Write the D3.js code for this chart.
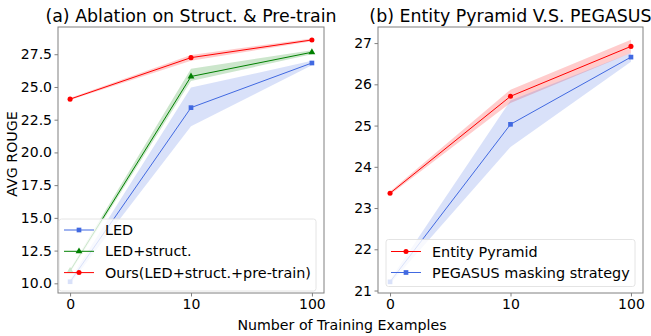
<!DOCTYPE html>
<html>
<head>
<meta charset="utf-8">
<script src="https://cdn.jsdelivr.net/npm/d3@7"></script>
<style>
  body { margin: 0; background: #fff; }
  text { font-family: "DejaVu Sans", sans-serif; fill: #000; }
</style>
</head>
<body>
<script>
/*** data ***/
const xLabels = ["0", "10", "100"];

// (a) ablation
const ledMean = [10.12, 23.42, 26.83];
const ledLow  = [9.95, 22.0, 26.65];
const ledHigh = [10.3, 24.95, 27.0];

const structMean = [10.95, 25.8, 27.65];
const structLow  = [10.8, 25.45, 27.5];
const structHigh = [11.1, 26.4, 27.8];

const oursMean = [24.07, 27.24, 28.59];
const oursLow  = [24.0, 27.0, 28.5];
const oursHigh = [24.15, 27.45, 28.7];

const yTicksA = [10, 12.5, 15, 17.5, 20, 22.5, 25, 27.5];

// (b) entity pyramid vs pegasus
const pyrMean = [23.36, 25.71, 26.92];
const pyrLow  = [23.32, 25.55, 26.76];
const pyrHigh = [23.4, 25.87, 27.08];

const pegMean = [21.21, 25.03, 26.66];
const pegLow  = [21.16, 24.48, 26.55];
const pegHigh = [21.26, 25.61, 26.76];

const yTicksB = [21, 22, 23, 24, 25, 26, 27];

/*** setup ***/
const width = 651, height = 336;
const svg = d3.select("body").append("svg")
  .attr("width", width)
  .attr("height", height);

const spineColor = "#808080";

function drawPanel(opts) {
  const { left, right, top, bottom, yDomain, yTicks, yFmt, title, series, legend } = opts;

  const x = d3.scalePoint().domain(xLabels).range([left, right]).padding(0.1);
  const y = d3.scaleLinear().domain(yDomain).range([bottom, top]);

  const g = svg.append("g");

  // bands + lines
  series.forEach(s => {
    const pts = xLabels.map((k, i) => ({ k, m: s.mean[i], lo: s.low[i], hi: s.high[i] }));
    g.append("path")
      .attr("d", d3.area().x(d => x(d.k)).y0(d => y(d.lo)).y1(d => y(d.hi))(pts))
      .attr("fill", s.color)
      .attr("fill-opacity", 0.2);
  });
  series.forEach(s => {
    const pts = xLabels.map((k, i) => ({ k, m: s.mean[i] }));
    g.append("path")
      .attr("d", d3.line().x(d => x(d.k)).y(d => y(d.m))(pts))
      .attr("fill", "none")
      .attr("stroke", s.color)
      .attr("stroke-width", 1);
    g.selectAll(null)
      .data(pts)
      .join("path")
      .attr("transform", d => `translate(${x(d.k)},${y(d.m)})`)
      .attr("d", d3.symbol().type(s.symbol).size(s.size))
      .attr("fill", s.color);
  });

  // axes
  const xAxis = svg.append("g")
    .attr("transform", `translate(0,${bottom})`)
    .call(d3.axisBottom(x).tickSize(3.5).tickPadding(3));
  const yAxis = svg.append("g")
    .attr("transform", `translate(${left},0)`)
    .call(d3.axisLeft(y).tickValues(yTicks).tickFormat(yFmt).tickSize(3.5).tickPadding(2.5));
  [xAxis, yAxis].forEach(a => {
    a.select(".domain").remove();
    a.selectAll(".tick line").attr("stroke", spineColor);
    a.selectAll(".tick text").attr("font-size", 14).attr("font-family", "DejaVu Sans").attr("fill", "#000");
  });

  svg.append("rect")
    .attr("x", left).attr("y", top)
    .attr("width", right - left).attr("height", bottom - top)
    .attr("fill", "none")
    .attr("stroke", spineColor)
    .attr("stroke-width", 1);

  svg.append("text")
    .attr("x", (left + right) / 2)
    .attr("y", top - 5)
    .attr("text-anchor", "middle")
    .attr("font-size", 17.4)
    .text(title);

  // legend
  const lg = svg.append("g");
  lg.append("rect")
    .attr("x", legend.x).attr("y", legend.y)
    .attr("width", legend.w).attr("height", legend.h)
    .attr("rx", 2.5)
    .attr("fill", "#fff").attr("fill-opacity", 0.8)
    .attr("stroke", "#ddd").attr("stroke-width", 0.8);
  series.forEach((s, i) => {
    const cy = legend.y + legend.first + i * legend.step;
    lg.append("line")
      .attr("x1", legend.x + 5).attr("x2", legend.x + 35)
      .attr("y1", cy).attr("y2", cy)
      .attr("stroke", s.color).attr("stroke-width", 1);
    lg.append("path")
      .attr("transform", `translate(${legend.x + 20},${cy})`)
      .attr("d", d3.symbol().type(s.symbol).size(s.size))
      .attr("fill", s.color);
    lg.append("text")
      .attr("x", legend.x + 46)
      .attr("y", cy)
      .attr("dy", "0.36em")
      .attr("font-size", 14.4)
      .text(s.name);
  });
}

drawPanel({
  left: 58, right: 324, top: 27, bottom: 293,
  yDomain: [9.26, 29.58], yTicks: yTicksA, yFmt: d3.format(".1f"),
  title: "(a) Ablation on Struct. & Pre-train",
  series: [
    { name: "LED", mean: ledMean, low: ledLow, high: ledHigh, color: "#4169e1", symbol: d3.symbolSquare, size: 22 },
    { name: "LED+struct.", mean: structMean, low: structLow, high: structHigh, color: "#008000", symbol: d3.symbolTriangle, size: 20 },
    { name: "Ours(LED+struct.+pre-train)", mean: oursMean, low: oursLow, high: oursHigh, color: "#ff0000", symbol: d3.symbolCircle, size: 20 }
  ],
  legend: { x: 59, y: 219, w: 257, h: 72, first: 11, step: 21.3 }
});

drawPanel({
  left: 378, right: 643, top: 27, bottom: 293,
  yDomain: [20.94, 27.39], yTicks: yTicksB, yFmt: d3.format("d"),
  title: "(b) Entity Pyramid V.S. PEGASUS",
  series: [
    { name: "Entity Pyramid", mean: pyrMean, low: pyrLow, high: pyrHigh, color: "#ff0000", symbol: d3.symbolCircle, size: 20 },
    { name: "PEGASUS masking strategy", mean: pegMean, low: pegLow, high: pegHigh, color: "#4169e1", symbol: d3.symbolSquare, size: 22 }
  ],
  legend: { x: 386, y: 239.5, w: 249, h: 47, first: 12, step: 21 }
});

// shared labels
svg.append("text")
  .attr("x", 342).attr("y", 330)
  .attr("text-anchor", "middle")
  .attr("font-size", 14.2)
  .text("Number of Training Examples");

svg.append("text")
  .attr("transform", "translate(17,154) rotate(-90)")
  .attr("text-anchor", "middle")
  .attr("font-size", 14.2)
  .text("AVG ROUGE");
</script>
</body>
</html>
